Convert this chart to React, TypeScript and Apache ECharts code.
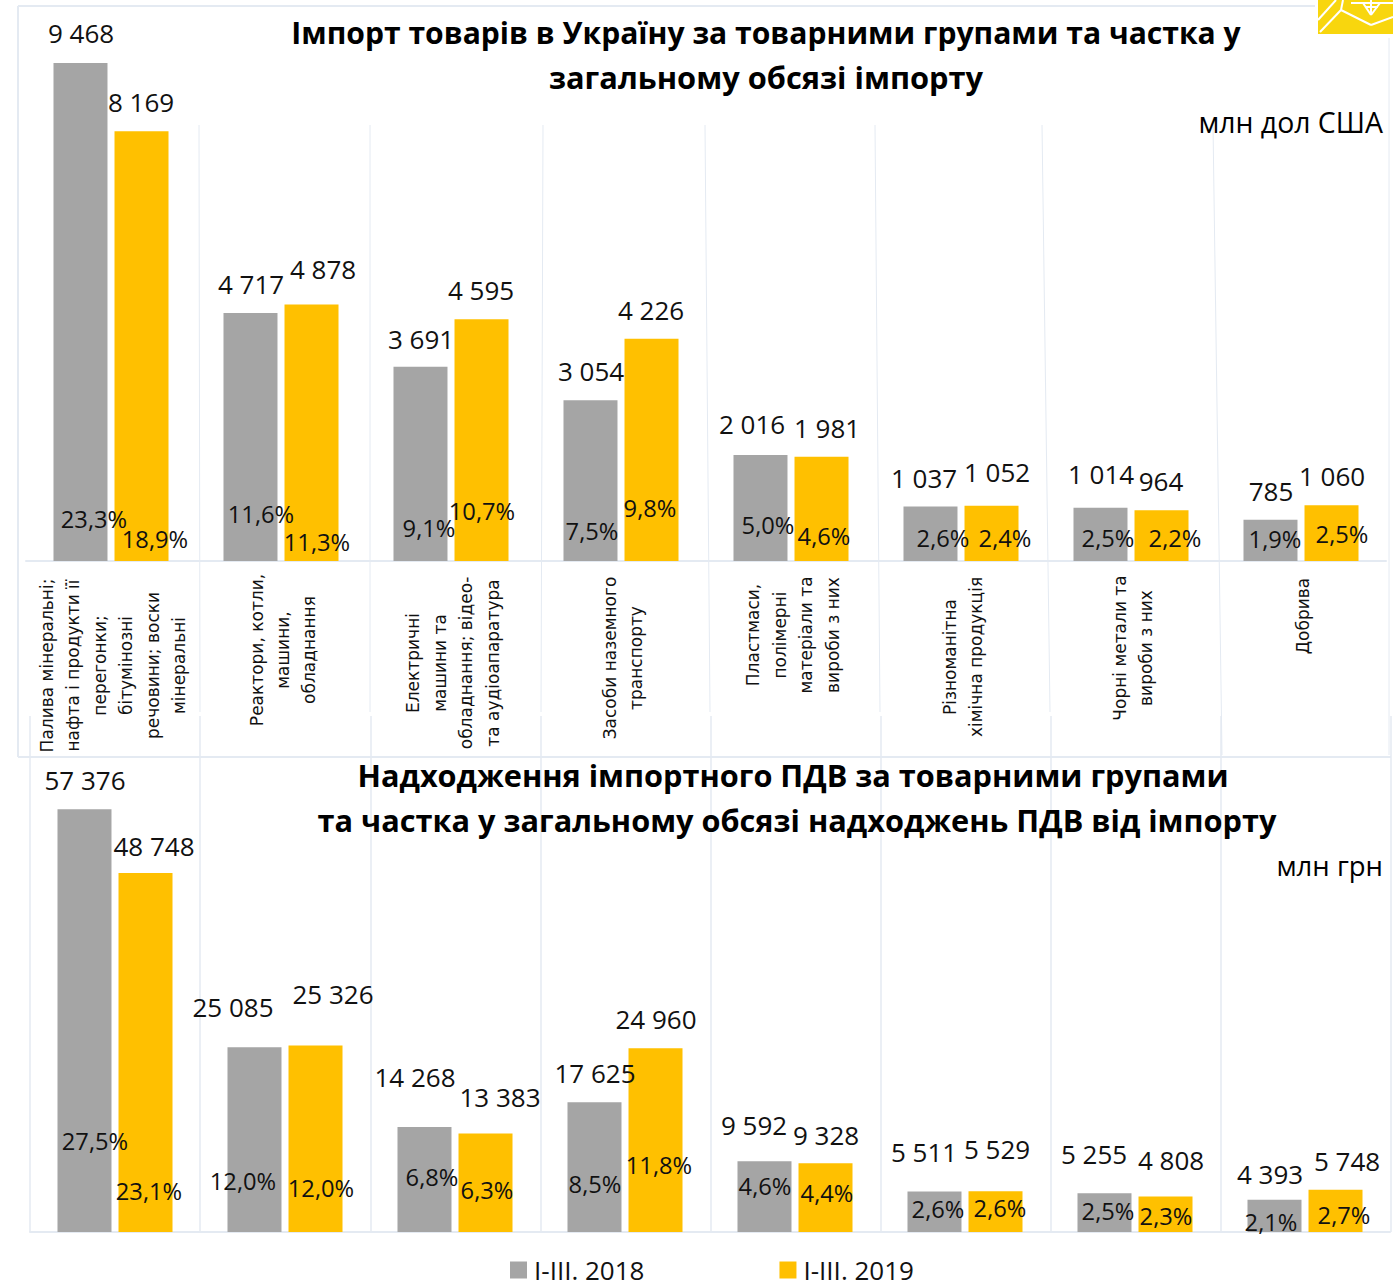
import React, { useEffect, useRef } from "react";
import * as echarts from "echarts";

const categories = [
  "Палива мінеральні;\nнафта і продукти її\nперегонки;\nбітумінозні\nречовини; воски\nмінеральні",
  "Реактори, котли,\nмашини,\nобладнання",
  "Електричні\nмашини та\nобладнання; відео-\nта аудіоапаратура",
  "Засоби наземного\nтранспорту",
  "Пластмаси,\nполімерні\nматеріали та\nвироби з них",
  "Різноманітна\nхімічна продукція",
  "Чорні метали та\nвироби з них",
  "Добрива",
];
const series2018 = "I-III. 2018";
const series2019 = "I-III. 2019";
const import2018 = [9468, 4717, 3691, 3054, 2016, 1037, 1014, 785];
const import2019 = [8169, 4878, 4595, 4226, 1981, 1052, 964, 1060];
const importShare2018 = ["23,3%", "11,6%", "9,1%", "7,5%", "5,0%", "2,6%", "2,5%", "1,9%"];
const importShare2019 = ["18,9%", "11,3%", "10,7%", "9,8%", "4,6%", "2,4%", "2,2%", "2,5%"];
const vat2018 = [57376, 25085, 14268, 17625, 9592, 5511, 5255, 4393];
const vat2019 = [48748, 25326, 13383, 24960, 9328, 5529, 4808, 5748];
const vatShare2018 = ["27,5%", "12,0%", "6,8%", "8,5%", "4,6%", "2,6%", "2,5%", "2,1%"];
const vatShare2019 = ["23,1%", "12,0%", "6,3%", "11,8%", "4,4%", "2,6%", "2,3%", "2,7%"];

// label anchors in the picture (centre x, centre y), kept apart from the data
const P = {
  iv18: [[81,33],[251,284],[421,339],[591,371],[752,424],[924,478],[1101,474],[1271,491]],
  iv19: [[141,102],[323,269],[481,290],[651,310],[827,428],[997,472],[1161,481],[1332,476]],
  ip18: [[94,519],[261,514],[429,528],[592,531],[768,525],[943,538],[1108,538],[1275,539]],
  ip19: [[155,539],[317,542],[482,511],[650,508],[824,536],[1005,538],[1175,538],[1342,534]],
  vv18: [[85,780],[233,1007],[415,1077],[595,1073],[754,1125],[924,1152],[1094,1154],[1270,1174]],
  vv19: [[154,846],[333,994],[500,1097],[656,1019],[826,1135],[997,1149],[1171,1160],[1347,1161]],
  vp18: [[95,1141],[243,1181],[432,1177],[595,1184],[765,1186],[938,1209],[1108,1211],[1271,1222]],
  vp19: [[149,1191],[321,1188],[487,1190],[659,1165],[827,1193],[1000,1208],[1166,1216],[1344,1215]],
};
// vertical middle of each rotated category label block
const catMidY = [665.5, 650, 663, 658, 635, 657, 648, 616];

const GRAY = "#A5A5A5";
const YELLOW = "#FFC000";
const LINE = "#E4EAF2";
const LABEL_FONT = "'Open Sans', sans-serif";
const TITLE_FONT = "'Open Sans', sans-serif";

const fmt = (v: number) => String(v).replace(/\B(?=(\d{3})+$)/g, " ");
const G1 = { left: 26, top: 35, width: 1360, height: 526 };
const G2 = { left: 30, top: 790, width: 1360, height: 442 };
const Y1 = G1.top + G1.height;
const Y2 = G2.top + G2.height;

function labelLayer(axis: number, texts: string[], anchors: number[][], fontSize: number, baseY: number) {
  return {
    type: "custom",
    xAxisIndex: axis,
    yAxisIndex: axis,
    silent: true,
    z: 10,
    data: texts.map((t, i) => [i, 0]),
    encode: { x: 0, y: 1 },
    renderItem: (_p: any, api: any) => {
      const i = api.value(0);
      const c = api.coord([i, 0]);
      return {
        type: "text",
        x: anchors[i][0],
        y: c[1] + (anchors[i][1] - baseY),
        style: { text: texts[i], fontSize, fontFamily: LABEL_FONT, fill: "#111", align: "center", verticalAlign: "middle" },
      };
    },
  };
}

function categoryLayer() {
  return {
    type: "custom",
    xAxisIndex: 0,
    yAxisIndex: 0,
    silent: true,
    z: 10,
    clip: false,
    data: categories.map((t, i) => [i, 0]),
    encode: { x: 0, y: 1 },
    renderItem: (_p: any, api: any) => {
      const i = api.value(0);
      const c = api.coord([i, 0]);
      return {
        type: "text",
        x: c[0] + 2,
        y: catMidY[i],
        rotation: Math.PI / 2,
        style: {
          text: categories[i], fontSize: 17, lineHeight: 26.4,
          fontFamily: "'DejaVu Sans', sans-serif", fill: "#111", align: "center", verticalAlign: "middle",
        },
      };
    },
  };
}

function bars(axis: number, name: string, color: string, values: number[]) {
  return {
    type: "bar",
    name,
    xAxisIndex: axis,
    yAxisIndex: axis,
    data: values,
    barWidth: 54,
    barGap: "13%",
    itemStyle: { color },
  };
}

function vLine(x1: number, y1: number, x2: number, y2: number, w = 1, stroke = LINE) {
  return { type: "line", z: 0, shape: { x1, y1, x2, y2 }, style: { stroke, lineWidth: w } };
}
function txt(text: string, x: number, y: number, fontSize: number, bold: boolean, align = "center") {
  return { type: "text", x, y, z: 20, style: { text, fontSize, fontWeight: bold ? "bold" : "normal", fontFamily: TITLE_FONT, fill: "#000", align, verticalAlign: "middle" } };
}

export default function App() {
  const ref = useRef<HTMLDivElement>(null);
  useEffect(() => {
    const chart = echarts.init(ref.current!, undefined, { renderer: "svg" });
    const topX = [[199,125,200,712],[370,125,370,712],[543,125,541,712],[705,125,710,712],[875,125,880,712],[1042,125,1050,712],[1213,125,1222,755],[1389,38,1389,755]];
    const botX = [30,200,371,541,711,881,1051,1221,1391];
    const white = (x1: number, y1: number, x2: number, y2: number) => ({ type: "line", z: 21, shape: { x1, y1, x2, y2 }, style: { stroke: "#fff", lineWidth: 2 } });
    chart.setOption({
      animation: false,
      grid: [
        { ...G1, containLabel: false },
        { ...G2, containLabel: false },
      ],
      xAxis: [
        {
          gridIndex: 0, type: "category", data: categories,
          axisLine: { lineStyle: { color: LINE, width: 2 } }, axisTick: { show: false }, axisLabel: { show: false },
        },
        {
          gridIndex: 1, type: "category", data: categories,
          axisLine: { lineStyle: { color: LINE, width: 2 } }, axisTick: { show: false }, axisLabel: { show: false },
        },
      ],
      yAxis: [
        { gridIndex: 0, type: "value", min: 0, max: 10000, show: false },
        { gridIndex: 1, type: "value", min: 0, max: 60000, show: false },
      ],
      legend: {
        data: [series2018, series2019], left: 510, top: 1257, padding: 0, itemWidth: 17, itemHeight: 17, itemGap: 135,
        textStyle: { fontSize: 26, lineHeight: 20, fontFamily: LABEL_FONT, color: "#111", padding: [0, 0, 0, 2] }, icon: "rect",
      },
      series: [
        bars(0, series2018, GRAY, import2018),
        bars(0, series2019, YELLOW, import2019),
        bars(1, series2018, GRAY, vat2018),
        bars(1, series2019, YELLOW, vat2019),
        categoryLayer(),
        labelLayer(0, import2018.map(fmt), P.iv18, 26, Y1),
        labelLayer(0, import2019.map(fmt), P.iv19, 26, Y1),
        labelLayer(0, importShare2018, P.ip18, 23.7, Y1),
        labelLayer(0, importShare2019, P.ip19, 23.7, Y1),
        labelLayer(1, vat2018.map(fmt), P.vv18, 26, Y2),
        labelLayer(1, vat2019.map(fmt), P.vv19, 26, Y2),
        labelLayer(1, vatShare2018, P.vp18, 23.7, Y2),
        labelLayer(1, vatShare2019, P.vp19, 23.7, Y2),
      ],
      graphic: [
        ...topX.map((a) => vLine(a[0], a[1], a[2], a[3])),
        ...botX.map((x) => vLine(x, 716, x, 1232, 1.5)),
        vLine(18, 6, 18, 757, 2),
        vLine(18, 757, 1391, 757, 2),
        vLine(18, 6, 1315, 6, 2),
        txt("Імпорт товарів в Україну за товарними групами та частка у", 766, 32, 30.1, true),
        txt("загальному обсязі імпорту", 766, 77, 30.8, true),
        txt("млн дол США", 1383, 122, 28.4, false, "right"),
        txt("Надходження імпортного ПДВ за товарними групами", 793, 775, 30.7, true),
        txt("та частка у загальному обсязі надходжень ПДВ від імпорту", 797, 820, 30.7, true),
        txt("млн грн", 1383, 865, 27.5, false, "right"),
        { type: "polygon", z: 20, shape: { points: [[1318,34],[1318,0],[1393,0],[1393,34]] }, style: { fill: "#F8D60E" } },
        white(1318, 20, 1336, 0),
        white(1320, 32, 1341, 10),
        white(1343, 0, 1341, 10),
        white(1341, 10, 1371, 25),
        white(1371, 25, 1393, 17),
        white(1351, 3, 1393, 3),
        white(1363, 3, 1371, 15),
        white(1380, 3, 1371, 15),
        white(1371, 0, 1371, 15),
        white(1365, 7, 1378, 7),
      ],
    });
    return () => chart.dispose();
  }, []);
  return <div ref={ref} style={{ position: "absolute", left: 0, top: 0, width: 1393, height: 1282 }} />;
}
